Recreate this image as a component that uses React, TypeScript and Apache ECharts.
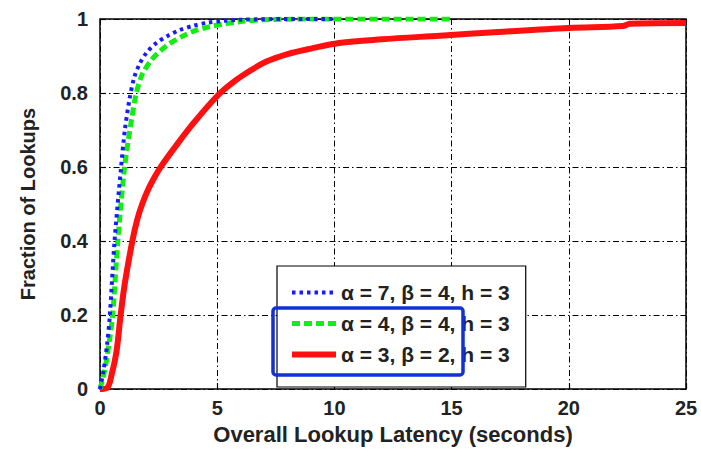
import React, { useEffect, useRef } from "react";
import * as echarts from "echarts";

const xTicks = [0, 5, 10, 15, 20, 25];
const yTicks = [0, 0.2, 0.4, 0.6, 0.8, 1];

const seriesNames = ["α = 7, β = 4, h = 3", "α = 4, β = 4, h = 3", "α = 3, β = 2, h = 3"];

const blueX = [0, 0.15, 0.3, 0.42, 0.62, 0.9, 1.06, 1.25, 1.45, 1.7, 2.0, 2.4, 2.9, 3.4, 4.0, 4.6, 5.3, 6.0, 8, 10];
const blueY = [0, 0.05, 0.12, 0.2, 0.4, 0.6, 0.7, 0.78, 0.84, 0.88, 0.91, 0.935, 0.955, 0.97, 0.982, 0.99, 0.995, 0.998, 1, 1];

const greenX = [0, 0.2, 0.4, 0.54, 0.76, 1.05, 1.35, 1.55, 1.8, 2.2, 2.6, 3.0, 3.5, 4.0, 4.6, 5.2, 6.0, 7.0, 9, 15];
const greenY = [0, 0.05, 0.13, 0.2, 0.4, 0.6, 0.73, 0.8, 0.85, 0.89, 0.915, 0.935, 0.953, 0.967, 0.978, 0.986, 0.993, 0.998, 1, 1];

const redX = [0, 0.3, 0.5, 0.7, 0.88, 1.06, 1.38, 1.59, 1.8, 2.06, 2.35, 2.62, 3.19, 3.9, 5.0, 5.7, 6.4, 7.1, 8.0, 9.0, 10.2, 12, 14.5, 17, 20, 22.3, 22.6, 25];
const redY = [0, 0.003, 0.04, 0.1, 0.2, 0.286, 0.4, 0.458, 0.5, 0.54, 0.575, 0.603, 0.653, 0.712, 0.792, 0.83, 0.86, 0.885, 0.905, 0.92, 0.935, 0.945, 0.955, 0.965, 0.976, 0.981, 0.987, 0.989];

const FONT = '"Liberation Sans", Arial, Helvetica, sans-serif';

function pairs(xs: number[], ys: number[]) {
  return xs.map((x, i) => [x, ys[i]]);
}

export default function App() {
  const ref = useRef<HTMLDivElement>(null);
  useEffect(() => {
    document.body.style.margin = "0";
    const chart = echarts.init(ref.current!, null, { renderer: "svg" });
    const axisLabel = { color: "#222", fontFamily: FONT, fontWeight: "bold" as const, fontSize: 20 };
    const gridLine = { show: true, lineStyle: { color: "#000", width: 1, type: [6, 3, 1.5, 3] } };
    chart.setOption({
      animation: false,
      backgroundColor: "#fff",
      grid: { left: 100, right: 15, top: 19, bottom: 56, show: true, borderColor: "#000", borderWidth: 1.5, backgroundColor: "transparent" },
      xAxis: {
        type: "value",
        min: xTicks[0],
        max: xTicks[xTicks.length - 1],
        interval: 5,
        name: "Overall Lookup Latency (seconds)",
        nameLocation: "middle",
        nameGap: 31,
        nameTextStyle: { color: "#222", fontFamily: FONT, fontWeight: "bold", fontSize: 22 },
        axisLine: { show: false },
        axisTick: { show: true, inside: true, length: 6, lineStyle: { color: "#000", width: 1.2 } },
        axisLabel: { ...axisLabel, margin: 9 },
        splitLine: gridLine,
      },
      yAxis: {
        type: "value",
        min: yTicks[0],
        max: yTicks[yTicks.length - 1],
        interval: 0.2,
        name: "Fraction of Lookups",
        nameLocation: "middle",
        nameGap: 62,
        nameTextStyle: { color: "#222", fontFamily: FONT, fontWeight: "bold", fontSize: 20 },
        axisLine: { show: false },
        axisTick: { show: true, inside: true, length: 6, lineStyle: { color: "#000", width: 1.2 } },
        axisLabel: { ...axisLabel, margin: 12, formatter: (v: number) => String(Math.round(v * 10) / 10) },
        splitLine: gridLine,
      },
      legend: {
        show: true,
        orient: "vertical",
        left: 277,
        top: 266,
        backgroundColor: "#fff",
        borderColor: "#000",
        borderWidth: 1.2,
        padding: [16, 16, 22, 12],
        itemWidth: 44,
        itemHeight: 14,
        itemGap: 10,
        itemStyle: { opacity: 0 },
        lineStyle: { width: "inherit" },
        textStyle: { color: "#222", fontFamily: FONT, fontWeight: "bold", fontSize: 21 },
        data: seriesNames,
      },
      series: [
        {
          name: seriesNames[0],
          type: "line",
          symbol: "none",
          smooth: 0.3,
          z: 4,
          lineStyle: { color: "#1a1aff", width: 4, type: [3.5, 4] },
          itemStyle: { color: "#1a1aff" },
          data: pairs(blueX, blueY),
        },
        {
          name: seriesNames[1],
          type: "line",
          symbol: "none",
          smooth: 0.3,
          z: 3,
          lineStyle: { color: "#11ee11", width: 5, type: [8, 4] },
          itemStyle: { color: "#11ee11" },
          data: pairs(greenX, greenY),
        },
        {
          name: seriesNames[2],
          type: "line",
          symbol: "none",
          smooth: 0.35,
          z: 2,
          lineStyle: { color: "#ff1010", width: 6 },
          itemStyle: { color: "#ff1010" },
          data: pairs(redX, redY),
        },
      ],
      graphic: [
        {
          type: "rect",
          z: 100,
          shape: { x: 273, y: 308, width: 190, height: 67, r: 3 },
          style: { fill: "none", stroke: "#1030d8", lineWidth: 3.5 },
        },
      ],
    });
    return () => chart.dispose();
  }, []);
  return <div ref={ref} style={{ width: 701, height: 450 }} />;
}
